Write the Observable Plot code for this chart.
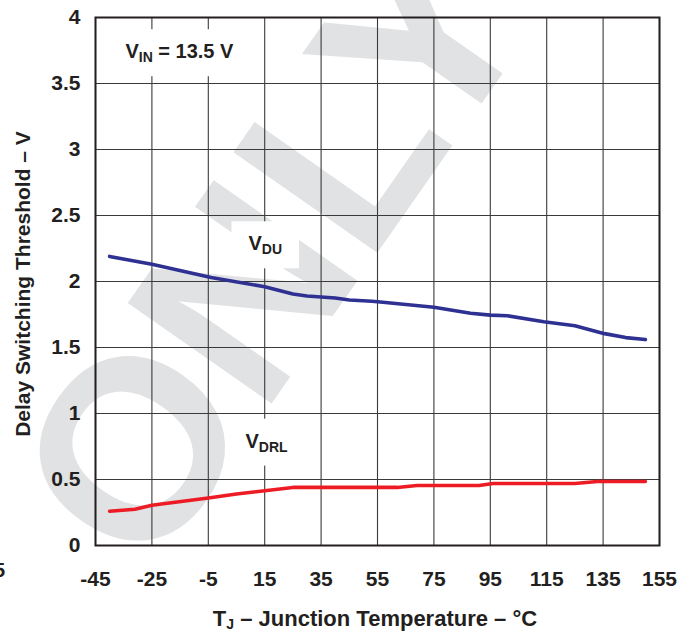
<!DOCTYPE html>
<html>
<head>
<meta charset="utf-8">
<script src="https://cdn.jsdelivr.net/npm/d3@7"></script>
<script src="https://cdn.jsdelivr.net/npm/@observablehq/plot@0.6"></script>
<style>
  html, body { margin: 0; padding: 0; background: #ffffff; }
  #chart { width: 679px; height: 631px; overflow: hidden; }
</style>
</head>
<body>
<div id="chart"></div>
<script>
// ---- Data ----
const duTemp = [-40, -25, -4, 15, 25, 30, 40, 45, 53, 56, 75, 88, 95, 101, 114, 125, 135.5, 143, 150];
const duVolt = [2.19, 2.13, 2.03, 1.96, 1.905, 1.89, 1.875, 1.86, 1.85, 1.845, 1.805, 1.76, 1.745, 1.74, 1.695, 1.665, 1.605, 1.575, 1.56];

const drlTemp = [-40, -31, -25, -5, 5, 15, 25, 62, 69, 91, 96, 125, 133, 150];
const drlVolt = [0.26, 0.275, 0.305, 0.36, 0.39, 0.415, 0.44, 0.44, 0.455, 0.455, 0.47, 0.47, 0.485, 0.485];

const xTicks = [-45, -25, -5, 15, 35, 55, 75, 95, 115, 135, 155];
const xTickLabels = ["-45", "-25", "-5", "15", "35", "55", "75", "95", "115", "135", "155"];
const yTicks = [0, 0.5, 1, 1.5, 2, 2.5, 3, 3.5, 4];
const yTickLabels = ["0", "0.5", "1", "1.5", "2", "2.5", "3", "3.5", "4"];

// Curve labels ("|" toggles subscript)
const labelText = ["V|IN| = 13.5 V", "V|DU", "V|DRL"];
const labelTemp = [-34.4, 9.25, 8.2];
const labelVolt = [3.74, 2.285, 0.79];

const xTitle = ["T", "J", " \u2013 Junction Temperature \u2013 \u00B0C"];
const yTitle = "Delay Switching Threshold \u2013 V";
const watermark = "ONLY";

// ---- Build ----
const ink = "#231f20";
const fontFamily = "'Liberation Sans', Arial, Helvetica, sans-serif";

const duSeries = duTemp.map((t, i) => ({t, v: duVolt[i]}));
const drlSeries = drlTemp.map((t, i) => ({t, v: drlVolt[i]}));
const labelData = labelText.map((s, i) => ({s, t: labelTemp[i], v: labelVolt[i]}));

const plot = Plot.plot({
  width: 679,
  height: 631,
  marginTop: 17,
  marginRight: 20,
  marginBottom: 86,
  marginLeft: 95,
  style: {fontFamily, fontWeight: "bold", color: ink, background: "#ffffff", overflow: "visible"},
  x: {domain: [-45, 155]},
  y: {domain: [0, 4]},
  marks: [
    Plot.gridX(xTicks, {stroke: "#3a3a3a", strokeOpacity: 1, strokeWidth: 1.1}),
    Plot.gridY(yTicks, {stroke: "#3a3a3a", strokeOpacity: 1, strokeWidth: 1.1}),
    Plot.text(labelData, {
      x: "t", y: "v", text: "s",
      textAnchor: "start", lineAnchor: "middle",
      fontSize: 20, fontWeight: "bold", fill: ink
    }),
    Plot.line(duSeries, {x: "t", y: "v", stroke: "#2e3192", strokeWidth: 3.6}),
    Plot.line(drlSeries, {x: "t", y: "v", stroke: "#ed1c24", strokeWidth: 3.6}),
    Plot.frame({stroke: ink, strokeWidth: 2}),
    Plot.axisX(xTicks, {
      tickSize: 0, tickPadding: 26, fontSize: 21, fontWeight: "bold", fill: ink,
      label: null, tickFormat: d => xTickLabels[xTicks.indexOf(d)]
    }),
    Plot.axisY(yTicks, {
      tickSize: 0, tickPadding: 15, fontSize: 21, fontWeight: "bold", fill: ink,
      label: null, tickFormat: d => yTickLabels[yTicks.indexOf(d)]
    })
  ]
});

document.getElementById("chart").append(plot);
const svg = d3.select(plot);

// Watermark underneath everything
svg.insert("text", ":first-child")
  .attr("transform", "translate(148,580) rotate(-55)")
  .attr("text-anchor", "start")
  .attr("font-family", fontFamily)
  .attr("font-weight", "bold")
  .attr("font-size", 255)
  .attr("fill", "#e1e2e4")
  .text(watermark);

// Subscripts + white label boxes
svg.selectAll("text").filter(function () { return this.textContent.includes("|"); }).each(function () {
  const el = d3.select(this);
  const parts = el.text().split("|");
  el.text(null);
  parts.forEach((p, i) => {
    if (!p) return;
    const sub = i % 2 === 1;
    const ts = el.append("tspan").text(p);
    if (sub) ts.attr("font-size", 14).attr("dy", 4);
    else if (i > 0) ts.attr("dy", -4);
  });
  const bb = this.getBBox();
  const padX = 17, padY = 11;
  const r = d3.select(this.parentNode).insert("rect", () => this)
    .attr("x", bb.x - padX).attr("y", bb.y - padY)
    .attr("width", bb.width + 2 * padX).attr("height", bb.height + 2 * padY)
    .attr("fill", "#ffffff");
  const tf = this.getAttribute("transform");
  if (tf) r.attr("transform", tf);
});

// Axis titles
const xt = svg.append("text")
  .attr("x", 375).attr("y", 626)
  .attr("text-anchor", "middle")
  .attr("font-family", fontFamily).attr("font-weight", "bold")
  .attr("font-size", 22).attr("fill", ink);
xt.append("tspan").text(xTitle[0]);
xt.append("tspan").attr("font-size", 14).attr("dy", 3).text(xTitle[1]);
xt.append("tspan").attr("dy", -3).text(xTitle[2]);

svg.append("text")
  .attr("transform", "translate(30,284) rotate(-90)")
  .attr("text-anchor", "middle")
  .attr("font-family", fontFamily).attr("font-weight", "bold")
  .attr("font-size", 21).attr("fill", ink)
  .text(yTitle);

// Stray glyph cut off at the left edge of the reference
svg.append("text")
  .attr("x", 5).attr("y", 577)
  .attr("text-anchor", "end")
  .attr("font-family", fontFamily).attr("font-weight", "bold")
  .attr("font-size", 20).attr("fill", ink)
  .text("5");
</script>
</body>
</html>
